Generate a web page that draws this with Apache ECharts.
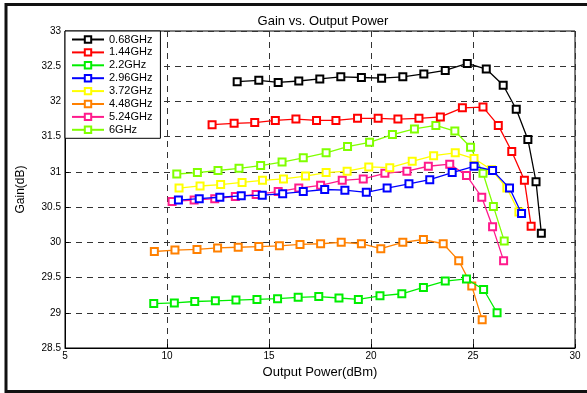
<!DOCTYPE html>
<html>
<head>
<meta charset="utf-8">
<script src="https://cdn.jsdelivr.net/npm/echarts@6/dist/echarts.min.js"></script>
<style>html,body{margin:0;padding:0;background:#fff;}#c{width:587px;height:393px;}</style>
</head>
<body>
<div id="c"></div>
<script>
const seriesNames = ['0.68GHz','1.44GHz','2.2GHz','2.96GHz','3.72GHz','4.48GHz','5.24GHz','6GHz'];
const seriesColors = ['#000000','#ff0000','#00ee00','#0000ff','#ffff00','#ff8000','#ff1a8c','#80ff00'];

const x068 = [13.44,14.50,15.45,16.46,17.49,18.52,19.53,20.52,21.56,22.59,23.64,24.72,25.65,26.48,27.12,27.69,28.09,28.35];
const y068 = [32.28,32.30,32.27,32.29,32.32,32.35,32.34,32.33,32.35,32.39,32.44,32.54,32.46,32.23,31.89,31.46,30.86,30.13];

const x144 = [12.21,13.29,14.30,15.31,16.32,17.33,18.28,19.34,20.35,21.32,22.35,23.40,24.48,25.49,26.24,26.90,27.52,27.85];
const y144 = [31.67,31.69,31.70,31.73,31.75,31.73,31.73,31.76,31.76,31.75,31.76,31.78,31.91,31.92,31.66,31.29,30.88,30.23];

const x22 = [9.35,10.36,11.36,12.37,13.38,14.41,15.42,16.43,17.44,18.43,19.38,20.44,21.51,22.57,23.64,24.68,25.52,26.18];
const y22 = [29.13,29.14,29.16,29.17,29.18,29.19,29.20,29.22,29.23,29.21,29.19,29.24,29.27,29.36,29.45,29.48,29.33,29.00];

const x296 = [10.56,11.58,12.59,13.64,14.67,15.67,16.68,17.73,18.72,19.77,20.79,21.86,22.88,23.98,25.05,25.96,26.79,27.38];
const y296 = [30.60,30.62,30.64,30.66,30.67,30.69,30.72,30.75,30.74,30.71,30.77,30.83,30.89,30.99,31.08,31.02,30.77,30.41];

const x372 = [10.59,11.62,12.63,13.68,14.68,15.71,16.79,17.80,18.83,19.89,20.92,22.02,23.07,24.13,25.05,25.91,26.66,27.25];
const y372 = [30.77,30.80,30.82,30.85,30.88,30.90,30.94,30.99,31.01,31.07,31.06,31.15,31.23,31.27,31.19,31.03,30.77,30.43];

const x448 = [9.38,10.39,11.47,12.48,13.49,14.50,15.51,16.52,17.53,18.54,19.53,20.48,21.56,22.57,23.54,24.30,24.94,25.45];
const y448 = [29.87,29.89,29.90,29.92,29.93,29.94,29.95,29.97,29.98,30.00,29.98,29.91,30.00,30.04,29.98,29.74,29.38,28.90];

const x524 = [10.25,11.33,12.34,13.35,14.37,15.45,16.46,17.53,18.59,19.62,20.68,21.76,22.81,23.86,24.68,25.43,25.96,26.50];
const y524 = [30.58,30.60,30.62,30.65,30.68,30.72,30.77,30.81,30.88,30.90,30.98,31.01,31.08,31.11,30.95,30.64,30.22,29.74];

const x6 = [10.48,11.49,12.50,13.53,14.59,15.64,16.68,17.80,18.85,19.93,21.05,22.13,23.18,24.11,24.88,25.49,26.00,26.53];
const y6 = [30.97,30.99,31.02,31.05,31.09,31.14,31.20,31.27,31.36,31.42,31.53,31.61,31.66,31.58,31.35,30.98,30.51,30.02];

const xTicks = [5,10,15,20,25,30];
const yTicks = [28.5,29,29.5,30,30.5,31,31.5,32,32.5,33];

const xs = [x068,x144,x22,x296,x372,x448,x524,x6];
const ys = [y068,y144,y22,y296,y372,y448,y524,y6];

const font = 'Liberation Sans, Arial, sans-serif';
const series = seriesNames.map((n,i)=>({
  name:n, type:'line',
  data: xs[i].map((x,j)=>[x, ys[i][j]]),
  symbol:'emptyRect', symbolSize:7,
  lineStyle:{color:seriesColors[i], width:1.3},
  itemStyle:{color:seriesColors[i], borderColor:seriesColors[i], borderWidth:1.3},
  emphasis:{disabled:true},
  animation:false, z: 10 - i
}));

const chart = echarts.init(document.getElementById('c'), null, {renderer:'canvas'});
chart.setOption({
  animation:false,
  backgroundColor:'#fff',
  title:{text:'Gain vs. Output Power', left:318, textAlign:'center', top:10,
    textStyle:{fontFamily:font, fontSize:13, fontWeight:'normal', color:'#000'}},
  grid:{left:65, right:12, top:31, bottom:45, show:true, borderColor:'#000', borderWidth:1, backgroundColor:'transparent'},
  legend:{
    orient:'vertical', left:65, top:31, padding:[3,8,3,6],
    backgroundColor:'#fff', borderColor:'#000', borderWidth:1, borderRadius:0,
    itemWidth:32, itemHeight:8, itemGap:1.9,
    textStyle:{fontFamily:font, fontSize:11, color:'#000'},
    data:seriesNames
  },
  xAxis:{
    type:'value', min:xTicks[0], max:xTicks[xTicks.length-1], interval:5,
    name:'Output Power(dBm)', nameLocation:'middle', nameGap:16,
    nameTextStyle:{fontFamily:font, fontSize:13, color:'#000'},
    axisLine:{show:true, lineStyle:{color:'#000', width:1}},
    axisTick:{show:true, inside:true, length:4, lineStyle:{color:'#000'}},
    axisLabel:{fontFamily:font, fontSize:10, color:'#000', margin:3},
    splitLine:{show:true, lineStyle:{color:'#333', type:[6,5], width:1}}
  },
  yAxis:{
    type:'value', min:yTicks[0], max:yTicks[yTicks.length-1], interval:0.5,
    name:'Gain(dB)', nameLocation:'middle', nameGap:38, nameRotate:90,
    nameTextStyle:{fontFamily:font, fontSize:12, color:'#000'},
    axisLine:{show:true, lineStyle:{color:'#000', width:1}},
    axisTick:{show:true, inside:true, length:4, lineStyle:{color:'#000'}},
    axisLabel:{fontFamily:font, fontSize:10, color:'#000', margin:4, formatter:v=>String(v)},
    splitLine:{show:true, lineStyle:{color:'#333', type:[6,5], width:1}}
  },
  graphic:[
    {type:'rect', shape:{x:6, y:4.5, width:600, height:387}, style:{fill:'none', stroke:'#111', lineWidth:3}, silent:true, z:100},
  ],
  series: series
});
</script>
</body>
</html>
